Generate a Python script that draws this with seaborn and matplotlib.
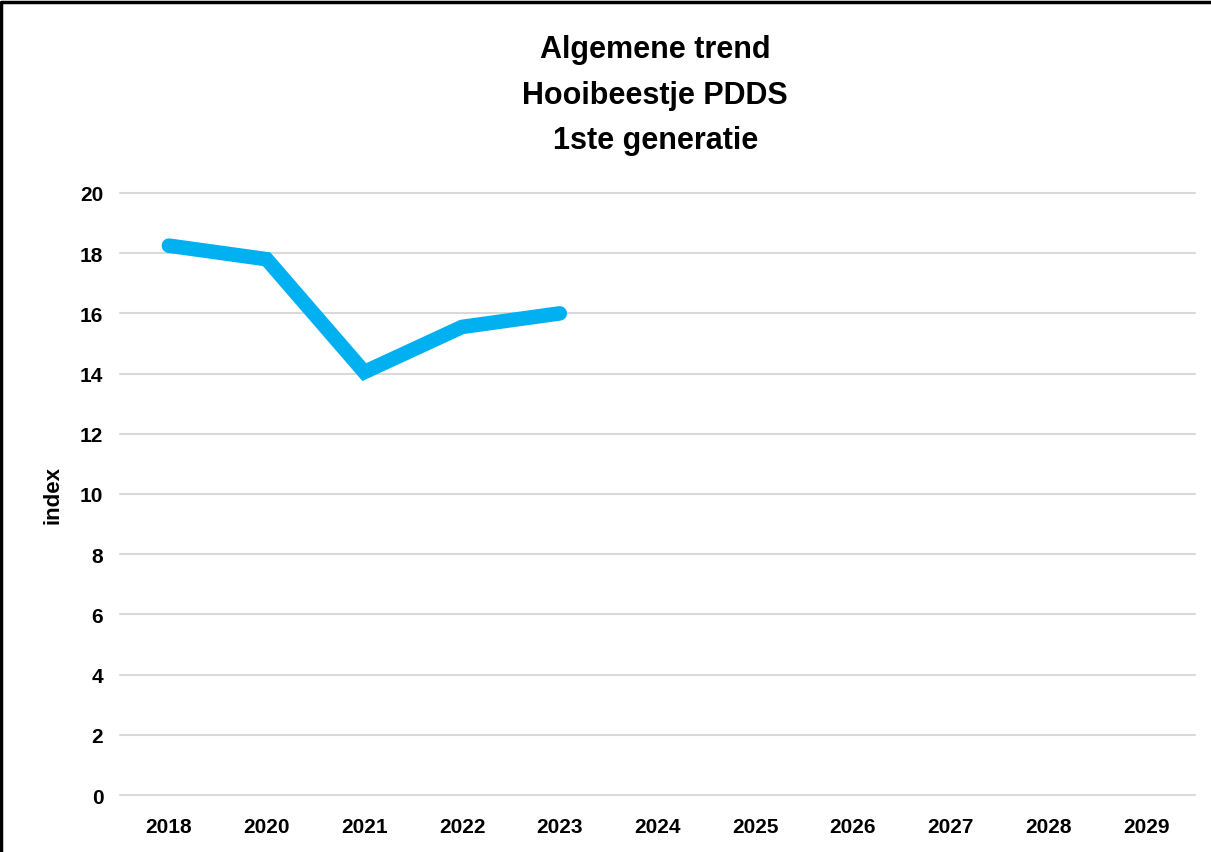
import matplotlib.pyplot as plt
import matplotlib.lines as mlines
import numpy as np
import pandas as pd
import seaborn as sns

# data
years = ['2018', '2020', '2021', '2022', '2023', '2024', '2025', '2026', '2027', '2028', '2029']
index_values = [18.25, 17.8, 14.05, 15.55, 16.0, np.nan, np.nan, np.nan, np.nan, np.nan, np.nan]
title_lines = ['Algemene trend', 'Hooibeestje PDDS', '1ste generatie']

sns.set_style('white')
plt.rcParams['font.family'] = ['Liberation Sans', 'DejaVu Sans']
plt.rcParams['font.weight'] = 'bold'
plt.rcParams['text.color'] = 'black'
plt.rcParams['xtick.color'] = 'black'
plt.rcParams['ytick.color'] = 'black'
plt.rcParams['axes.labelcolor'] = 'black'

df = pd.DataFrame({'year': years, 'index': index_values})
df['pos'] = range(len(years))

fig = plt.figure(figsize=(12.11, 8.53), dpi=100)
ax = fig.add_axes([0.0991, 0.0668, 0.8877, 0.7058])

sns.lineplot(data=df, x='pos', y='index', ax=ax, color='#00B0F0',
             linewidth=10.5, solid_capstyle='round', solid_joinstyle='miter')

ax.set_xlim(-0.5, len(years) - 0.5)
ax.set_ylim(0, 20)
ax.set_yticks(range(0, 21, 2))
ax.set_xticks(range(len(years)))
ax.set_xticklabels(years)
ax.yaxis.grid(True, color='#D9D9D9', linewidth=1.5)
for gl in ax.get_ygridlines():
    gl.set_clip_on(False)
ax.set_axisbelow(True)
for s in ax.spines.values():
    s.set_visible(False)
ax.tick_params(axis='x', length=0, labelsize=15, pad=16)
ax.tick_params(axis='y', length=0, labelsize=15, pad=12)
for lab in ax.get_xticklabels() + ax.get_yticklabels():
    lab.set_fontweight('bold')

ax.set_xlabel('')
ax.set_ylabel('index', fontsize=16, fontweight='bold', labelpad=12)

fig.text(0.541, 0.959, '\n'.join(title_lines), ha='center', va='top',
         fontsize=22, fontweight='bold', linespacing=1.68)

# dark frame on the top and left edge only (the screenshot is cropped on the others)
fig.lines.append(mlines.Line2D([0.0012, 0.0012, 1.0], [0.0, 0.9965, 0.9965],
                               transform=fig.transFigure, color='black', linewidth=2.5))

fig.savefig('out.png', dpi=100)
